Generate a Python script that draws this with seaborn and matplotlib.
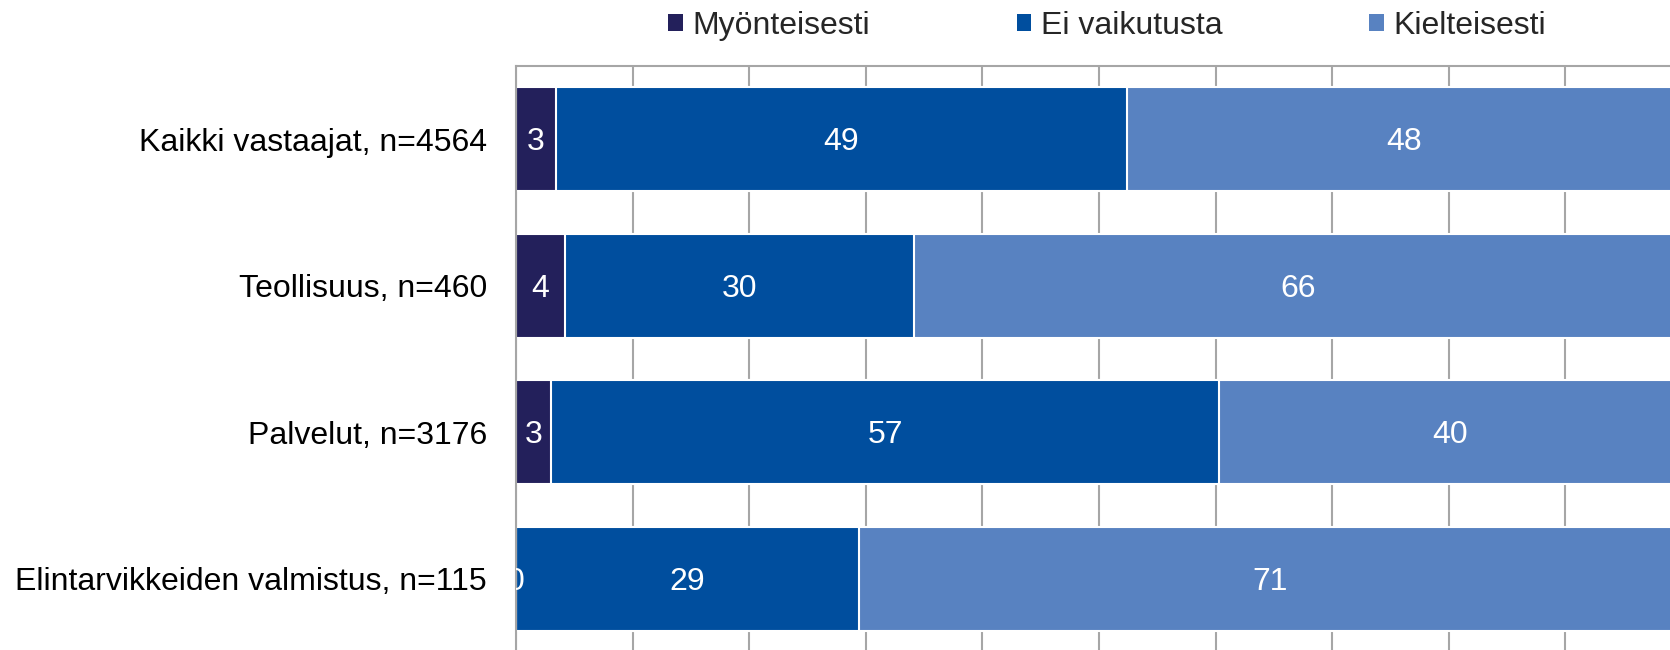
import matplotlib
matplotlib.use("Agg")
import matplotlib.pyplot as plt
from matplotlib.patches import Patch
import seaborn as sns
import pandas as pd
import numpy as np

categories = ["Kaikki vastaajat, n=4564", "Teollisuus, n=460", "Palvelut, n=3176",
              "Elintarvikkeiden valmistus, n=115"]
series_names = ["Myönteisesti", "Ei vaikutusta", "Kielteisesti"]
myonteisesti = [3.4, 4.2, 3.0, 0.0]
ei_vaikutusta = [49.0, 29.9, 57.3, 29.4]
kielteisesti = [47.6, 65.9, 39.7, 70.6]
colors = ["#23205B", "#004E9E", "#5882C1"]

sns.set_theme(style="white")
plt.rcParams["font.family"] = ["Liberation Sans", "DejaVu Sans"]

fig = plt.figure(figsize=(16.7, 6.5), dpi=100)
ax = fig.add_axes([516 / 1670, 1 - 652 / 650, (1670 - 516) / 1670, (652 - 66) / 650])

df = pd.DataFrame({"cat": categories, "m": myonteisesti, "e": ei_vaikutusta, "k": kielteisesti})
df["c1"] = df["m"]
df["c2"] = df["m"] + df["e"]
df["c3"] = df["m"] + df["e"] + df["k"]

for col, c in zip(["c3", "c2", "c1"], colors[::-1]):
    sns.barplot(data=df, x=col, y="cat", order=categories, color=c, width=0.71,
                edgecolor="white", linewidth=1.5, orient="h", ax=ax, saturation=1)

# value labels
for i in range(len(categories)):
    left = 0.0
    for vals in (myonteisesti, ei_vaikutusta, kielteisesti):
        w = vals[i]
        ax.text(left + w / 2, i + 0.02, f"{w:.0f}", ha="center", va="center", color="white",
                fontsize=23, clip_on=True)
        left += w

ax.set_xticks(np.arange(0, 101, 10))
ax.set_xticklabels([])
ax.set_xlim(0, 100 * (1670 - 516) / 1166)
ax.set_ylim(3.5, -0.5)
ax.xaxis.grid(True, color="#A6A6A6", linewidth=1.5)
ax.yaxis.grid(False)
ax.set_axisbelow(True)
ax.tick_params(axis="both", length=0)
ax.tick_params(axis="y", labelsize=23, pad=21, labelcolor="black")
ax.set_xlabel("")
ax.set_ylabel("")
for s in ["right", "bottom"]:
    ax.spines[s].set_visible(False)
for s in ["top", "left"]:
    ax.spines[s].set_color("#A6A6A6")
    ax.spines[s].set_linewidth(1.5)

handles = [Patch(facecolor=c, edgecolor="none") for c in colors]
fig.legend(handles, series_names, loc="center", bbox_to_anchor=(1107 / 1670, 1 - 26 / 650),
           ncol=3, frameon=False, fontsize=23, handlelength=0.45, handleheight=0.45,
           handletextpad=0.3, columnspacing=4.6)

fig.savefig("out.png", dpi=100)
